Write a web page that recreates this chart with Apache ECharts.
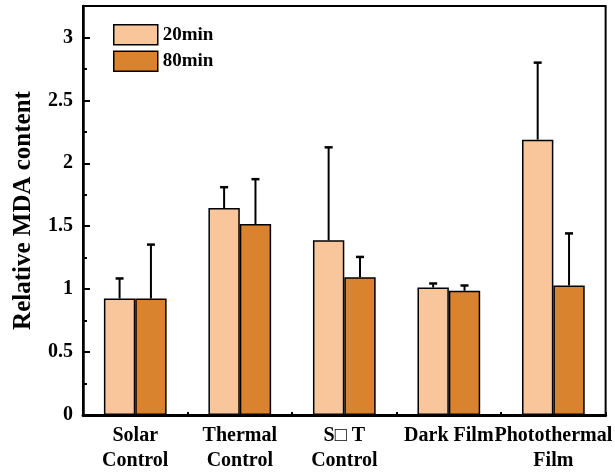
<!DOCTYPE html>
<html>
<head>
<meta charset="utf-8">
<script src="https://cdn.jsdelivr.net/npm/echarts@6/dist/echarts.min.js"></script>
<style>html,body{margin:0;padding:0;background:#fff}#c{width:615px;height:473px}</style>
</head>
<body>
<div id="c"></div>
<script>
const categories = ['Solar\nControl', 'Thermal\nControl', 'S\u25A1 T\nControl', 'Dark Film', 'Photothermal\nFilm'];
const seriesNames = ['20min', '80min'];
const values20 = [0.926, 1.644, 1.388, 1.013, 2.188];
const errTop20 = [1.085, 1.810, 2.127, 1.045, 2.800];
const values80 = [0.926, 1.518, 1.095, 0.987, 1.029];
const errTop80 = [1.354, 1.874, 1.256, 1.029, 1.443];
const yTicks = [0, 0.5, 1, 1.5, 2, 2.5, 3];

const FONT = '"Liberation Serif", "Times New Roman", serif';
const BAR_FRAC = 0.3;

function errRender(sign) {
  return function (params, api) {
    const x = api.value(0), v = api.value(1), top = api.value(2);
    const p0 = api.coord([x, v]);
    const p1 = api.coord([x, top]);
    const bw = api.size([1, 0])[0] * BAR_FRAC;
    const cx = p0[0] + sign * bw / 2;
    return {
      type: 'group',
      children: [
        { type: 'line', shape: { x1: cx, y1: p0[1], x2: cx, y2: p1[1] }, style: { stroke: '#000', lineWidth: 2 } },
        { type: 'line', shape: { x1: cx - 4, y1: p1[1], x2: cx + 4, y2: p1[1] }, style: { stroke: '#000', lineWidth: 2.5 } }
      ]
    };
  };
}

const chart = echarts.init(document.getElementById('c'), null, { renderer: 'canvas' });
chart.setOption({
  animation: false,
  backgroundColor: '#fff',
  grid: { left: 83, right: 7, top: 6, bottom: 56, show: true, borderColor: '#000', borderWidth: 2, backgroundColor: 'transparent' },
  legend: {
    orient: 'vertical', left: 108, top: 19, itemWidth: 44, itemHeight: 20, itemGap: 5,
    icon: 'rect',
    data: seriesNames,
    textStyle: { fontFamily: FONT, fontWeight: 'bold', fontSize: 19, color: '#000' },
    itemStyle: { borderColor: '#000', borderWidth: 1.5 }
  },
  xAxis: {
    type: 'category', data: categories,
    axisLine: { lineStyle: { color: '#000', width: 3 } },
    axisTick: { show: true, inside: true, length: 3, lineStyle: { color: '#000', width: 2 } },
    axisLabel: { fontFamily: FONT, fontWeight: 'bold', fontSize: 20, color: '#000', margin: 8, lineHeight: 25, interval: 0 }
  },
  yAxis: {
    type: 'value', min: 0, max: 3.25, interval: 0.5,
    name: 'Relative MDA content', nameLocation: 'middle', nameGap: 47,
    nameTextStyle: { fontFamily: FONT, fontWeight: 'bold', fontSize: 25, color: '#000' },
    axisLine: { show: true, lineStyle: { color: '#000', width: 2.5 } },
    axisTick: { show: true, inside: true, length: 7, lineStyle: { color: '#000', width: 2 } },
    minorTick: { show: true, splitNumber: 2, length: 4, lineStyle: { color: '#000', width: 2 } },
    splitLine: { show: false },
    axisLabel: {
      fontFamily: FONT, fontWeight: 'bold', fontSize: 20, color: '#000', margin: 10,
      formatter: function (v) { return yTicks.indexOf(v) >= 0 ? String(v) : ''; }
    }
  },
  series: [
    { name: seriesNames[0], type: 'bar', data: values20, barWidth: (BAR_FRAC * 100) + '%', barGap: '0%',
      itemStyle: { color: '#F8C69A', borderColor: '#000', borderWidth: 1.5 } },
    { name: seriesNames[1], type: 'bar', data: values80, barWidth: (BAR_FRAC * 100) + '%', barGap: '0%',
      itemStyle: { color: '#DA832E', borderColor: '#000', borderWidth: 1.5 } },
    { type: 'custom', renderItem: errRender(-1), z: 5,
      data: values20.map((v, i) => [i, v, errTop20[i]]) },
    { type: 'custom', renderItem: errRender(1), z: 5,
      data: values80.map((v, i) => [i, v, errTop80[i]]) }
  ]
});
</script>
</body>
</html>
